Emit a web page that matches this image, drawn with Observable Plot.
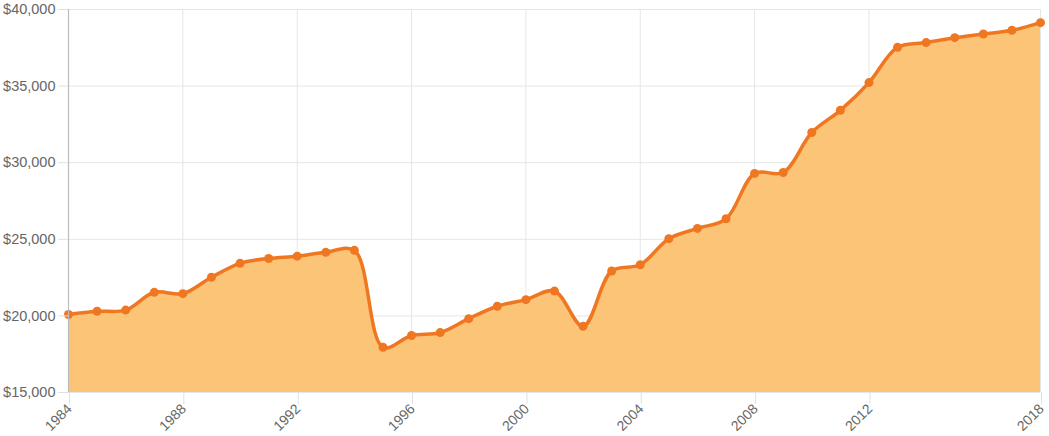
<!DOCTYPE html>
<html>
<head>
<meta charset="utf-8">
<script src="https://cdn.jsdelivr.net/npm/d3@7"></script>
<script src="https://cdn.jsdelivr.net/npm/@observablehq/plot@0.6"></script>
<style>
  html, body { margin: 0; padding: 0; background: #fff; }
  #chart svg { display: block; }
</style>
</head>
<body>
<div id="chart"></div>
<script>
const years = [1984,1985,1986,1987,1988,1989,1990,1991,1992,1993,1994,1995,1996,1997,1998,1999,2000,2001,2002,2003,2004,2005,2006,2007,2008,2009,2010,2011,2012,2013,2014,2015,2016,2017,2018];
const values = [20090,20300,20380,21540,21450,22520,23430,23750,23900,24150,24280,17950,18720,18910,19820,20630,21060,21620,19320,22930,23340,25040,25710,26340,29300,29360,31970,33420,35230,37530,37840,38160,38400,38640,39140];
const xTicks = [1984,1988,1992,1996,2000,2004,2008,2012,2018];
const yTicks = [15000,20000,25000,30000,35000,40000];

const data = years.map((y, i) => ({year: y, value: values[i]}));
const fmt = d3.format("$,");

const chart = Plot.plot({
  width: 1049,
  height: 436,
  marginLeft: 68,
  marginRight: 9,
  marginTop: 9,
  marginBottom: 44,
  style: {fontFamily: "'Liberation Sans', Arial, Helvetica, sans-serif", fontSize: "14px", color: "#666", background: "#fff"},
  x: {domain: [1984, 2018], label: null},
  y: {domain: [15000, 40000], label: null},
  marks: [
    Plot.gridY(yTicks, {stroke: "#e6e6e6", strokeOpacity: 1}),
    Plot.gridX(xTicks, {stroke: "#e6e6e6", strokeOpacity: 1}),
    Plot.areaY(data, {x: "year", y1: 15000, y2: "value", fill: "#fcc477", curve: "catmull-rom"}),
    Plot.line(data, {x: "year", y: "value", stroke: "#f07722", strokeWidth: 3.5, curve: "catmull-rom"}),
    Plot.dot(data, {x: "year", y: "value", r: 4.5, fill: "#f07722", stroke: "none"}),
    Plot.ruleX([1984], {stroke: "#bcbcbc", strokeWidth: 1.2}),
    Plot.axisY(yTicks, {tickFormat: fmt, tickSize: 10, tickPadding: 3, stroke: "#e0e0e0", strokeOpacity: 1, fill: "#666", fontSize: 14.5, label: null}),
    Plot.axisX(xTicks, {tickFormat: d => String(d), tickRotate: -45, tickSize: 12, tickPadding: 2, dx: 1, stroke: "#e0e0e0", strokeOpacity: 1, fill: "#666", fontSize: 14, label: null})
  ]
});
document.getElementById("chart").appendChild(chart);
</script>
</body>
</html>
